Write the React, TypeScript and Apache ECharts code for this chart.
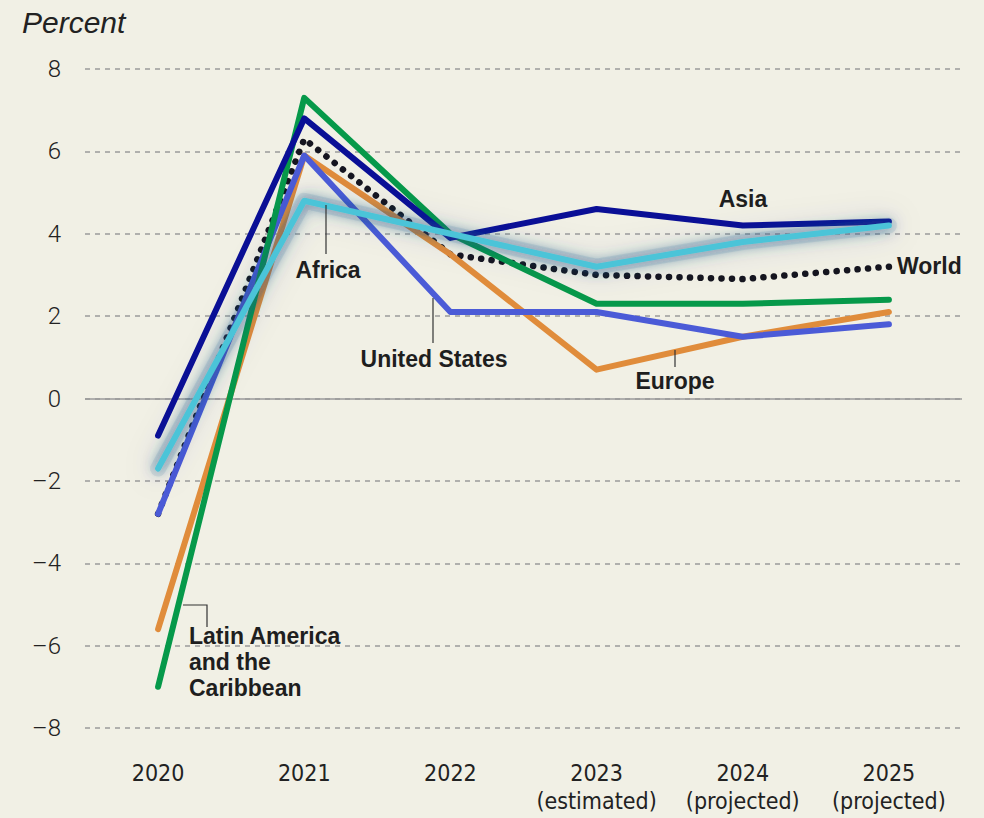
import React, { useEffect, useRef } from "react";
import * as echarts from "echarts";

const categories = ["2020", "2021", "2022", "2023\n(estimated)", "2024\n(projected)", "2025\n(projected)"];
const yTicks = [-8, -6, -4, -2, 0, 2, 4, 6, 8];
const world = [-2.8, 6.3, 3.5, 3.0, 2.9, 3.2];
const europe = [-5.6, 5.9, 3.5, 0.7, 1.5, 2.1];
const unitedStates = [-2.8, 5.9, 2.1, 2.1, 1.5, 1.8];
const latinAmerica = [-7.0, 7.3, 4.0, 2.3, 2.3, 2.4];
const asia = [-0.9, 6.8, 3.9, 4.6, 4.2, 4.3];
const africa = [-1.7, 4.8, 4.0, 3.2, 3.8, 4.2];

const BG = "#f1f0e5";
const labelFont = "'Liberation Sans', Arial, sans-serif";

export default function App() {
  const ref = useRef<HTMLDivElement>(null);
  useEffect(() => {
    document.body.style.margin = "0";
    const chart = echarts.init(ref.current!, null, { renderer: "svg" });
    const lineBase = (name: string, data: number[], color: string, extra: any = {}) => ({
      name,
      type: "line",
      data,
      symbol: "none",
      lineStyle: { color, width: 6, cap: "round", join: "round", ...extra },
      z: 2,
    });
    const txt = (x: number, y: number, text: string, align = "center") => ({
      type: "text",
      x,
      y,
      style: {
        text,
        fill: "#1e1e1e",
        font: `bold 23px ${labelFont}`,
        textAlign: align,
        textVerticalAlign: "middle",
        lineHeight: 26,
      },
      z: 100,
    });
    const seg = (x1: number, y1: number, x2: number, y2: number) => ({
      type: "line",
      shape: { x1, y1, x2, y2 },
      style: { stroke: "#333", lineWidth: 1.2 },
      z: 100,
    });
    const poly = (pts: number[][]) => ({
      type: "polyline",
      shape: { points: pts },
      style: { stroke: "#333", lineWidth: 1.2, fill: null },
      z: 100,
    });
    chart.setOption({
      animation: false,
      backgroundColor: BG,
      grid: { left: 85, right: 22, top: 69, bottom: 90, containLabel: false },
      xAxis: {
        type: "category",
        data: categories,
        boundaryGap: true,
        axisLine: { show: false },
        axisTick: { show: false },
        axisLabel: {
          interval: 0,
          color: "#222",
          fontFamily: "'DejaVu Sans Condensed', 'Liberation Sans Narrow', sans-serif",
          fontSize: 23,
          lineHeight: 28,
          margin: 31,
        },
      },
      yAxis: {
        type: "value",
        min: -8,
        max: 8,
        interval: 2,
        axisLine: { show: false },
        axisTick: { show: false },
        axisLabel: {
          color: "#222",
          fontFamily: "Roboto, sans-serif",
          fontWeight: 300,
          fontSize: 24,
          margin: 24,
          formatter: (v: number) => (yTicks.includes(v) ? (v < 0 ? "\u2013" + Math.abs(v) : String(v)) : ""),
        },
        splitLine: {
          lineStyle: { color: "#9a9a9a", type: [5, 5], width: 1.5 },
        },
      },
      series: [
        {
          ...lineBase("World", world, "#15151f", { type: [0.1, 10.4], width: 6.5 }),
          markLine: {
            silent: true,
            symbol: "none",
            label: { show: false },
            lineStyle: { color: "#9a9a9a", type: "solid", width: 1.5 },
            data: [{ yAxis: 0 }],
            z: 1,
          },
        },
        lineBase("Europe", europe, "#e08c3b"),
        lineBase("United States", unitedStates, "#4b5bd7"),
        lineBase("Latin America and the Caribbean", latinAmerica, "#06994a"),
        lineBase("Asia", asia, "#0a0f96"),
        {
          ...lineBase("Africa glow", africa, "rgba(50,100,150,0.12)", {
            width: 16,
            shadowBlur: 30,
            shadowColor: "rgba(20,70,130,1)",
          }),
          z: 2.5,
          silent: true,
        },
        {
          ...lineBase("Africa", africa, "#4cc4d8", {
            shadowBlur: 14,
            shadowColor: "rgba(20,70,130,0.85)",
          }),
          z: 3,
        },
      ],
      graphic: [
        { type: "text", x: 22, y: 22, style: { text: "Percent", fill: "#222", font: `italic 30px ${labelFont}`, textVerticalAlign: "middle" } },
        txt(743, 199, "Asia"),
        txt(897, 266, "World", "left"),
        txt(328, 270, "Africa"),
        seg(326, 205, 326, 254),
        txt(434, 359, "United States"),
        seg(433, 298, 433, 343),
        txt(675, 381, "Europe"),
        seg(675, 350, 675, 367),
        txt(189, 662, "Latin America\nand the\nCaribbean", "left"),
        poly([[183, 605], [207, 605], [207, 627]]),
      ],
    });
    return () => chart.dispose();
  }, []);
  return <div ref={ref} style={{ width: 984, height: 818, position: "fixed", left: 0, top: 0 }} />;
}
